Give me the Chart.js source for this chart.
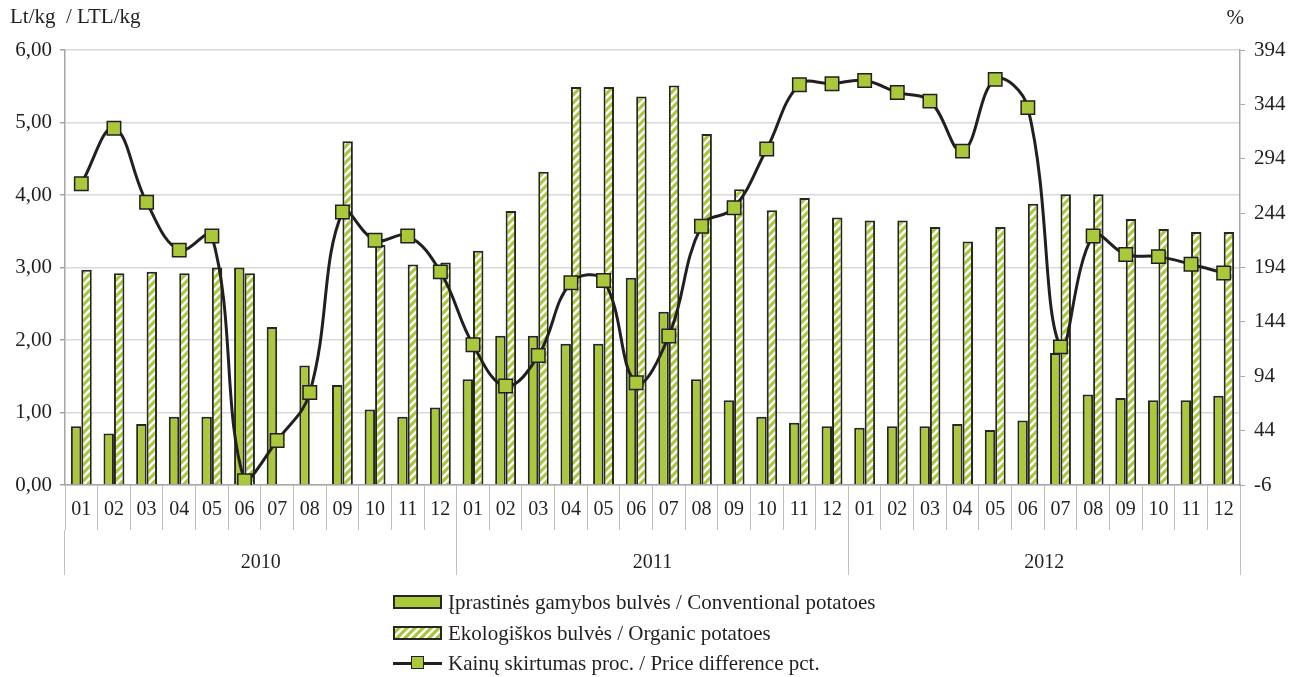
<!DOCTYPE html>
<html>
<head>
<meta charset="utf-8">
<script src="https://cdn.jsdelivr.net/npm/chart.js@4.4.1/dist/chart.umd.min.js"></script>
<style>
  body { margin: 0; background: #fff; }
  #wrap { position: relative; width: 1290px; height: 677px; }
  #legend { position: absolute; left: 393px; top: 587px; font-family: "Liberation Serif", serif; font-size: 21px; color: #231f20; }
  #legend .row { height: 30.5px; line-height: 30px; display: flex; align-items: center; }
  #legend .key { width: 49px; height: 14px; margin-right: 6px; box-sizing: border-box; border: 2px solid #262626; position: relative; }
  #legend .key.line { border: none; height: 3px; background: #231f20; }
  #legend .key.line::after { content: ""; position: absolute; left: 18px; top: -6px; width: 13px; height: 13px; box-sizing: border-box; background: #a9c93a; border: 1.5px solid #231f20; }
</style>
</head>
<body>
<div id="wrap">
  <canvas id="chart" width="1290" height="677"></canvas>
  <div id="legend"></div>
</div>
<script>
// months 2010-2012
var months = ['01','02','03','04','05','06','07','08','09','10','11','12',
              '01','02','03','04','05','06','07','08','09','10','11','12',
              '01','02','03','04','05','06','07','08','09','10','11','12'];
var years = ['2010', '2011', '2012'];

// Lt/kg
var conventional = [0.81, 0.71, 0.84, 0.94, 0.94, 3.00, 2.18, 1.65, 1.38, 1.04, 0.94, 1.07,
                    1.46, 2.06, 2.06, 1.95, 1.95, 2.86, 2.39, 1.46, 1.17, 0.94, 0.86, 0.81,
                    0.79, 0.81, 0.81, 0.84, 0.76, 0.89, 1.82, 1.25, 1.20, 1.17, 1.17, 1.23];
var organic = [2.97, 2.92, 2.94, 2.92, 3.00, 2.92, null, null, 4.74, 3.31, 3.04, 3.07,
               3.23, 3.78, 4.32, 5.49, 5.49, 5.36, 5.51, 4.84, 4.08, 3.79, 3.96, 3.69,
               3.65, 3.65, 3.56, 3.36, 3.56, 3.88, 4.01, 4.01, 3.67, 3.53, 3.49, 3.49];
// %
var difference = [271, 322, 254, 210, 223, -2, 35, 79, 245, 219, 223, 190,
                  123, 85, 113, 180, 182, 88, 131, 232, 249, 303, 362, 363,
                  366, 355, 347, 301, 367, 341, 121, 223, 206, 204, 197, 189];

var labels = ['Įprastinės gamybos bulvės / Conventional potatoes',
              'Ekologiškos bulvės / Organic potatoes',
              'Kainų skirtumas proc. / Price difference pct.'];

var GREEN = '#a9c93a';
var DARK = '#231f20';
var AXIS = '#a6a6a6';

// hatch tile for organic bars
var tile = document.createElement('canvas');
tile.width = 8; tile.height = 8;
var tg = tile.getContext('2d');
tg.fillStyle = GREEN;
tg.fillRect(0, 0, 8, 8);
tg.strokeStyle = '#fff';
tg.lineWidth = 2.4;
tg.beginPath();
tg.moveTo(-1, 9); tg.lineTo(9, -1);
tg.moveTo(-5, 5); tg.lineTo(5, -5);
tg.moveTo(3, 13); tg.lineTo(13, 3);
tg.stroke();

var ctx = document.getElementById('chart').getContext('2d');
var hatch = ctx.createPattern(tile, 'repeat');

Chart.defaults.font.family = '"Liberation Serif", serif';
Chart.defaults.font.size = 20;
Chart.defaults.color = DARK;

var axisTitles = {
  id: 'axisTitles',
  afterDraw: function(chart) {
    var c = chart.ctx, a = chart.chartArea;
    c.save();
    c.font = '21px "Liberation Serif", serif';
    c.fillStyle = DARK;
    c.textBaseline = 'middle';
    c.textAlign = 'left';
    c.fillText('Lt/kg  / LTL/kg', a.left - 55, 17);
    c.textAlign = 'right';
    c.fillText('%', a.right + 4, 18);
    c.restore();
  }
};

var chart = new Chart(ctx, {
  type: 'bar',
  data: {
    labels: months,
    datasets: [{
      label: labels[0],
      data: conventional,
      backgroundColor: GREEN,
      borderColor: '#262626',
      borderWidth: 2,
      yAxisID: 'y',
      order: 1
    }, {
      label: labels[1],
      data: organic,
      backgroundColor: hatch,
      borderColor: '#262626',
      borderWidth: 2,
      yAxisID: 'y',
      order: 1
    }, {
      type: 'line',
      label: labels[2],
      data: difference,
      borderColor: DARK,
      borderWidth: 3,
      tension: 0.4,
      pointStyle: 'rect',
      pointRadius: 9.5,
      pointBackgroundColor: GREEN,
      pointBorderColor: DARK,
      pointBorderWidth: 1.5,
      yAxisID: 'y1',
      order: 0
    }]
  },
  options: {
    responsive: false,
    animation: false,
    layout: { padding: { top: 50, bottom: 102, left: 0, right: 0 } },
    datasets: { bar: { categoryPercentage: 0.64, barPercentage: 1.0 } },
    plugins: { legend: { display: false }, tooltip: { enabled: false } },
    scales: {
      x: {
        type: 'category',
        offset: true,
        grid: { offset: true, drawOnChartArea: false, tickLength: 45, color: '#bfbfbf', lineWidth: 1 },
        border: { color: AXIS, width: 1.5 },
        ticks: { padding: -32, maxRotation: 0, autoSkip: false },
        afterFit: function(s) { s.height = 45; }
      },
      x2: {
        type: 'category',
        labels: years,
        position: 'bottom',
        offset: true,
        grid: { offset: true, drawOnChartArea: false, tickLength: 45, color: '#bfbfbf', lineWidth: 1 },
        border: { display: false },
        ticks: { padding: -24, maxRotation: 0 },
        afterFit: function(s) { s.height = 45; }
      },
      y: {
        position: 'left',
        min: 0, max: 6,
        ticks: { stepSize: 1, padding: 8, font: { size: 21 }, callback: function(v) { return v.toFixed(2).replace('.', ','); } },
        grid: { color: '#d9d9d9', lineWidth: 1.5, tickLength: 5, tickColor: AXIS },
        border: { color: AXIS, width: 1.5 },
        afterFit: function(s) { s.width = 65; }
      },
      y1: {
        position: 'right',
        min: -6, max: 394,
        ticks: { stepSize: 50, padding: 9, font: { size: 21 } },
        grid: { drawOnChartArea: false, tickLength: 5, color: AXIS },
        border: { color: AXIS, width: 1.5 },
        afterFit: function(s) { s.width = 50; }
      }
    }
  },
  plugins: [axisTitles]
});

// legend
var keys = ['solid', 'hatch', 'line'];
var leg = document.getElementById('legend');
chart.data.datasets.forEach(function(ds, i) {
  var row = document.createElement('div');
  row.className = 'row';
  var key = document.createElement('span');
  key.className = 'key ' + keys[i];
  if (keys[i] === 'solid') key.style.background = GREEN;
  if (keys[i] === 'hatch') key.style.background = 'url(' + tile.toDataURL() + ')';
  row.appendChild(key);
  row.appendChild(document.createTextNode(ds.label));
  leg.appendChild(row);
});
</script>
</body>
</html>
